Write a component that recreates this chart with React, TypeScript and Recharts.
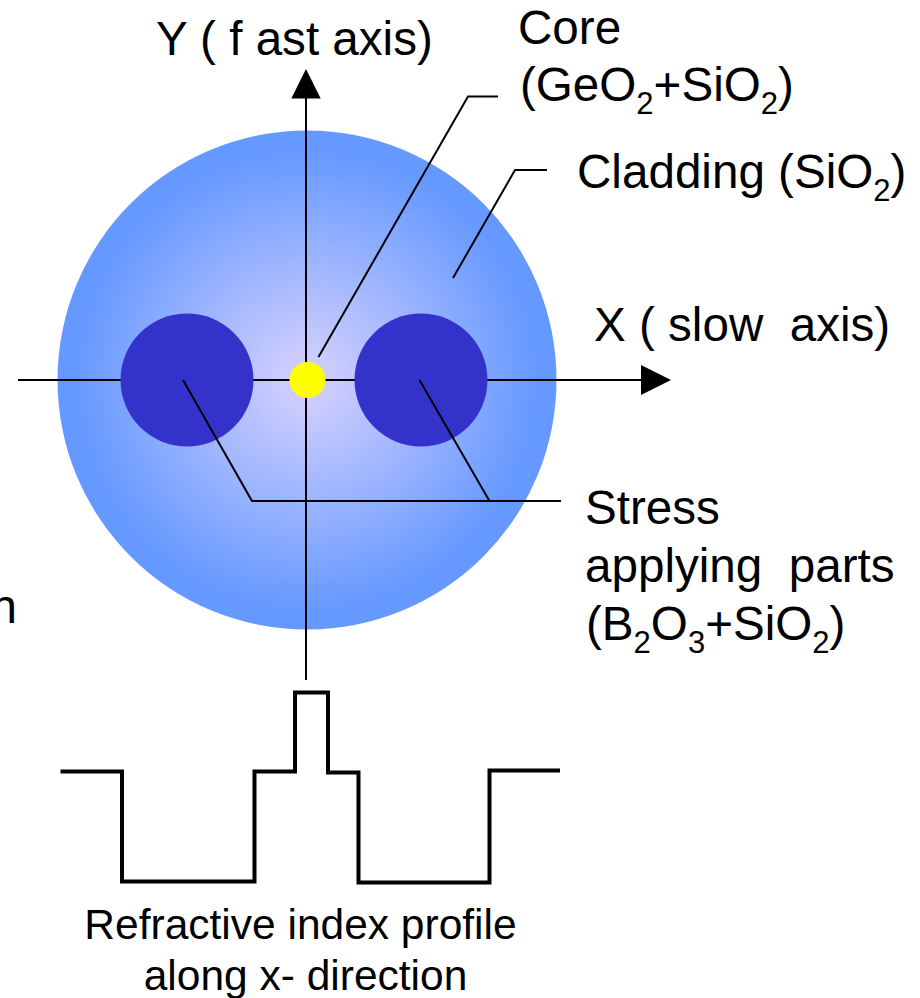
import React from "react";
import { ComposedChart, Scatter, XAxis, YAxis } from "recharts";

type Pt = { x: number; y: number };
const W = 920;
const H = 998;

const cladding = [{ x: 307, y: 380 }];
const stressParts = [{ x: 187, y: 380 }, { x: 421, y: 380 }];
const coreDot = [{ x: 307.5, y: 380 }];
const CLADDING_R = 249.5;
const STRESS_R = 66.5;
const CORE_R = 18;

const xAxisLine: Pt[] = [{ x: 18, y: 380 }, { x: 642, y: 380 }];
const yAxisLine: Pt[] = [{ x: 306, y: 96 }, { x: 306, y: 680 }];
const arrowUp = [{ x: 306, y: 69 }];
const arrowRight = [{ x: 671, y: 380 }];

const coreLeader: Pt[] = [{ x: 318.5, y: 357 }, { x: 468, y: 96.5 }, { x: 498, y: 96.5 }];
const claddingLeader: Pt[] = [{ x: 453, y: 278 }, { x: 515, y: 170 }, { x: 547, y: 170 }];
const stressLeftLeader: Pt[] = [{ x: 183, y: 380 }, { x: 252, y: 501 }, { x: 561, y: 501 }];
const stressRightLeader: Pt[] = [{ x: 419.5, y: 380 }, { x: 489.5, y: 501 }];

const indexProfile: Pt[] = [
  { x: 60.5, y: 771.5 }, { x: 122, y: 771.5 }, { x: 122, y: 881.5 }, { x: 254.5, y: 881.5 },
  { x: 254.5, y: 771.5 }, { x: 295, y: 771.5 }, { x: 295, y: 692.5 }, { x: 328, y: 692.5 },
  { x: 328, y: 772.5 }, { x: 358.5, y: 772.5 }, { x: 358.5, y: 882.5 }, { x: 489.5, y: 882.5 },
  { x: 489.5, y: 770.5 }, { x: 560, y: 770.5 },
];

type Run = [string, boolean?];
type Lbl = Pt & { runs: Run[]; size?: number; anchor?: string };

const labels: Lbl[] = [
  { x: 156, y: 55, runs: [["Y ( f ast axis)"]] },
  { x: 518, y: 44, runs: [["Core"]] },
  { x: 520, y: 101, runs: [["(GeO"], ["2", true], ["+SiO"], ["2", true], [")"]] },
  { x: 577, y: 188, runs: [["Cladding (SiO"], ["2", true], [")"]] },
  { x: 594, y: 341, runs: [["X ( slow  axis)"]] },
  { x: 585, y: 524, runs: [["Stress"]] },
  { x: 585, y: 582, runs: [["applying  parts"]] },
  { x: 586, y: 640, runs: [["(B"], ["2", true], ["O"], ["3", true], ["+SiO"], ["2", true], [")"]] },
  { x: 17, y: 623, runs: [["n"]], anchor: "end" },
  { x: 300.5, y: 939, runs: [["Refractive index profile"]], size: 42.5, anchor: "middle" },
  { x: 305.5, y: 990, runs: [["along x- direction"]], size: 42.5, anchor: "middle" },
];

const circleShape = (r: number, fill: string) => (p: any) => (
  <circle cx={p.cx} cy={p.cy} r={r} fill={fill} />
);

const UpTriangle = (p: any) => (
  <path d={`M${p.cx} ${p.cy}l14.7 29.5h-29.4z`} fill="#000" />
);
const RightTriangle = (p: any) => (
  <path d={`M${p.cx} ${p.cy}l-30 -15v30z`} fill="#000" />
);
const NoMark = () => <g />;

const TextShape = (p: any) => {
  const l: Lbl = p.payload;
  const size = l.size ?? 47.6;
  return (
    <text
      x={p.cx}
      y={p.cy}
      fontFamily="'Liberation Sans', Arial, sans-serif"
      fontSize={size}
      fill="#000"
      textAnchor={l.anchor ?? "start"}
      style={{ whiteSpace: "pre" }}
      xmlSpace="preserve"
    >
      {l.runs.map(([t, sub], i) => {
        const prevSub = i > 0 && l.runs[i - 1][1];
        const dy = sub ? 13 : prevSub ? -13 : 0;
        return (
          <tspan key={i} dy={dy} fontSize={sub ? 31 : size}>
            {t}
          </tspan>
        );
      })}
    </text>
  );
};

const polyline = (data: Pt[], width: number, key: string) => (
  <Scatter
    key={key}
    data={data}
    line={{ stroke: "#000", strokeWidth: width, fill: "none" }}
    lineType="joint"
    shape={NoMark}
    legendType="none"
    isAnimationActive={false}
  />
);

export default function App() {
  return (
    <div style={{ position: "absolute", left: 0, top: 0, width: W, height: H, background: "#fff" }}>
      <ComposedChart width={W} height={H} margin={{ top: 0, right: 0, bottom: 0, left: 0 }}>
        <defs>
          <radialGradient id="claddingGrad" cx="50%" cy="50%" r="50%">
            <stop offset="0%" stopColor="#CCCCFF" />
            <stop offset="10%" stopColor="#CCCCFF" />
            <stop offset="92%" stopColor="#6699FF" />
            <stop offset="100%" stopColor="#6699FF" />
          </radialGradient>
        </defs>
        <XAxis type="number" dataKey="x" domain={[0, W]} hide allowDataOverflow />
        <YAxis type="number" dataKey="y" domain={[0, H]} reversed hide allowDataOverflow />
        <Scatter data={cladding} shape={circleShape(CLADDING_R, "url(#claddingGrad)")} isAnimationActive={false} />
        {polyline(xAxisLine, 2, "xaxis")}
        {polyline(yAxisLine, 2, "yaxis")}
        <Scatter data={stressParts} shape={circleShape(STRESS_R, "#3333CC")} isAnimationActive={false} />
        <Scatter data={coreDot} shape={circleShape(CORE_R, "#FFFF00")} isAnimationActive={false} />
        <Scatter data={arrowUp} shape={UpTriangle} isAnimationActive={false} />
        <Scatter data={arrowRight} shape={RightTriangle} isAnimationActive={false} />
        {polyline(coreLeader, 2, "core")}
        {polyline(claddingLeader, 2, "clad")}
        {polyline(stressLeftLeader, 2, "sl")}
        {polyline(stressRightLeader, 2, "sr")}
        {polyline(indexProfile, 4, "profile")}
        <Scatter data={labels} shape={TextShape} isAnimationActive={false} />
      </ComposedChart>
    </div>
  );
}
